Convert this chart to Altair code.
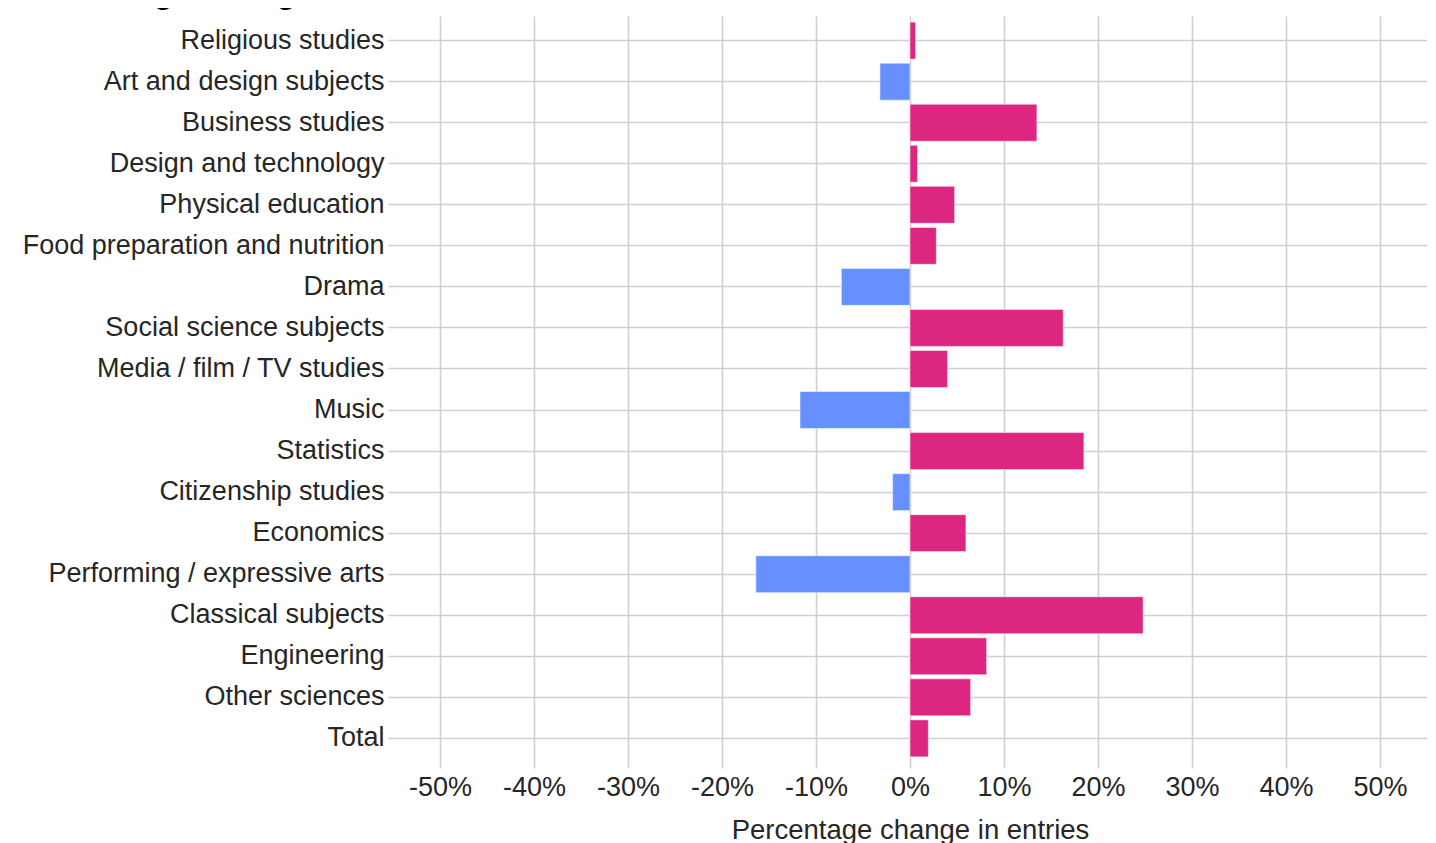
import altair as alt
import pandas as pd

subjects = [
    "Religious studies", "Art and design subjects", "Business studies",
    "Design and technology", "Physical education", "Food preparation and nutrition",
    "Drama", "Social science subjects", "Media / film / TV studies", "Music",
    "Statistics", "Citizenship studies", "Economics", "Performing / expressive arts",
    "Classical subjects", "Engineering", "Other sciences", "Total",
]
changes = [0.6, -3.2, 13.5, 0.8, 4.75, 2.8, -7.3, 16.3, 4.0, -11.7,
           18.5, -1.85, 5.95, -16.4, 24.8, 8.15, 6.45, 1.95]
tick_values = [-50, -40, -30, -20, -10, 0, 10, 20, 30, 40, 50]

df = pd.DataFrame({"subject": subjects, "change": changes})
df["direction"] = ["up" if v >= 0 else "down" for v in changes]

FONT = "Liberation Sans"
TEXT = "#262626"
GRID = "#cfcfcf"

chart = alt.Chart(df).mark_bar(stroke="white", strokeWidth=0.5).encode(
    x=alt.X(
        "change:Q",
        scale=alt.Scale(domain=[-55, 55], nice=False, zero=False),
        axis=alt.Axis(
            values=tick_values,
            labelExpr="(datum.value < 0 ? '-' : '') + abs(datum.value) + '%'",
            title="Percentage change in entries",
            grid=True, gridColor=GRID, gridWidth=1.6,
            domain=False, ticks=True, tickColor=GRID, tickSize=5, tickWidth=1.6,
            labelFontSize=27, labelFont=FONT, labelColor=TEXT, labelPadding=6,
            titleFontSize=27.5, titleFont=FONT, titleColor=TEXT, titleFontWeight="normal",
            titlePadding=16,
        ),
    ),
    y=alt.Y(
        "subject:N",
        sort=subjects,
        scale=alt.Scale(paddingInner=0.1, paddingOuter=0.15),
        axis=alt.Axis(
            title=None, bandPosition=0.5,
            grid=True, gridColor=GRID, gridWidth=1.6,
            domain=False, ticks=True, tickColor=GRID, tickSize=5, tickWidth=1.6,
            labelFontSize=27, labelFont=FONT, labelColor=TEXT, labelPadding=4,
            labelLimit=0,
        ),
    ),
    color=alt.Color(
        "direction:N",
        scale=alt.Scale(domain=["up", "down"], range=["#DD2680", "#6690FF"]),
        legend=None,
    ),
).properties(
    width=1034,
    height=747,
    title=alt.TitleParams(
        text="Percentage change in GCSE entries between 2023 and 2024, all students",
        anchor="start", frame="bounds", fontSize=32.5, fontWeight="bold",
        font=FONT, color="#000000", baseline="alphabetic", offset=0, dx=-6, dy=19,
    ),
    autosize=alt.AutoSizeParams(type="none"),
    padding={"left": 385, "top": 8, "right": 0, "bottom": 80},
).configure_view(stroke=None)

chart.save("out.html", embed_options={"renderer": "svg", "actions": False})
